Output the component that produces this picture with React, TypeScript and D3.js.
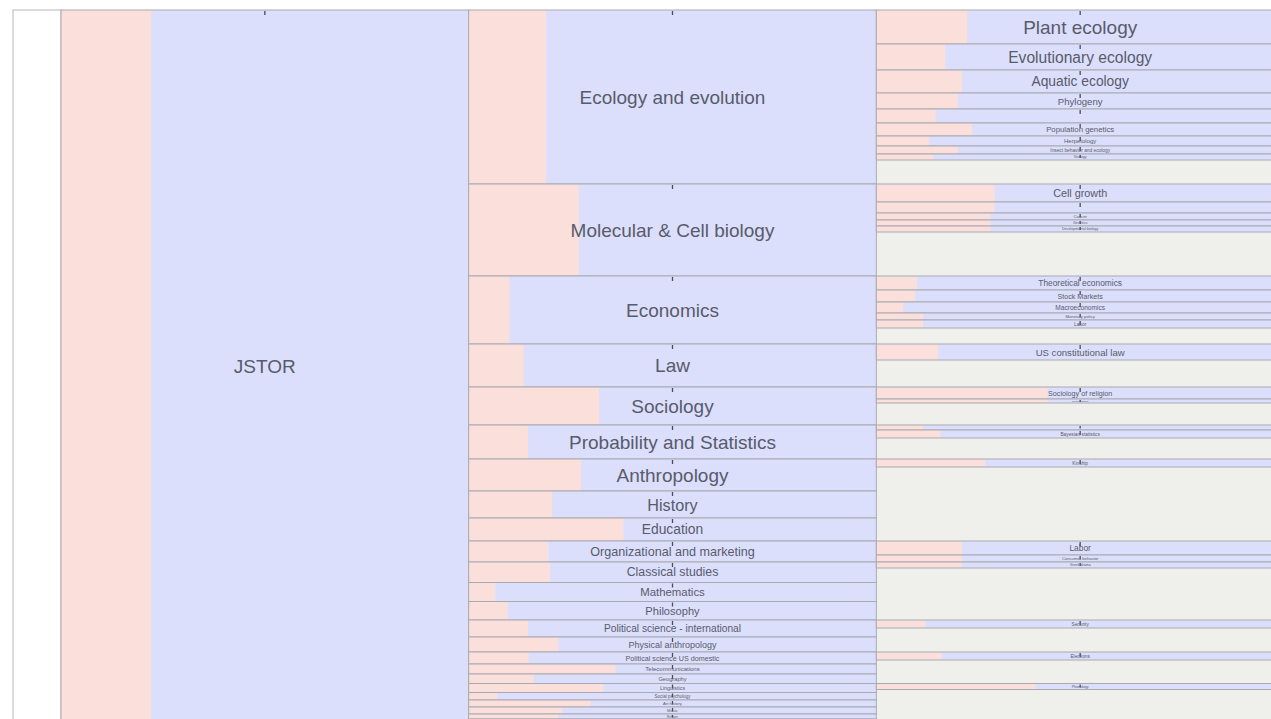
import React from 'react';
import * as d3 from 'd3';

const WIDTH = 1271;
const HEIGHT = 719;

// root share of the whole collection
const rootName = 'JSTOR';
const rootShare = 0.221;

// second level: disciplines
const fieldNames = [
  'Ecology and evolution', 'Molecular & Cell biology', 'Economics', 'Law', 'Sociology',
  'Probability and Statistics', 'Anthropology', 'History', 'Education',
  'Organizational and marketing', 'Classical studies', 'Mathematics', 'Philosophy',
  'Political science - international', 'Physical anthropology', 'Political science US domestic',
  'Telecommunications', 'Geography', 'Linguistics', 'Social psychology', 'Art history',
  'Music', 'Religion', 'Finance',
];
const fieldSizes = [174, 92, 68, 43, 38, 34, 32, 27, 23, 21, 20.5, 19, 18.5, 17, 15, 12, 10, 9.5, 9, 7.5, 7, 7, 5, 3];
const fieldShares = [0.19, 0.27, 0.1, 0.135, 0.32, 0.145, 0.275, 0.205, 0.38, 0.196, 0.2, 0.066, 0.096, 0.145, 0.22, 0.147, 0.36, 0.16, 0.33, 0.07, 0.3, 0.23, 0.22, 0.15];

// third level: topics inside each discipline
const topicFields = [
  'Ecology and evolution', 'Ecology and evolution', 'Ecology and evolution', 'Ecology and evolution',
  'Ecology and evolution', 'Ecology and evolution', 'Ecology and evolution', 'Ecology and evolution',
  'Ecology and evolution',
  'Molecular & Cell biology', 'Molecular & Cell biology', 'Molecular & Cell biology',
  'Molecular & Cell biology', 'Molecular & Cell biology',
  'Economics', 'Economics', 'Economics', 'Economics', 'Economics',
  'Law',
  'Sociology', 'Sociology',
  'Probability and Statistics', 'Probability and Statistics',
  'Anthropology',
  'Organizational and marketing', 'Organizational and marketing',
  'Classical studies',
  'Political science - international',
  'Political science US domestic',
  'Linguistics',
];
const topicNames = [
  'Plant ecology', 'Evolutionary ecology', 'Aquatic ecology', 'Phylogeny', '',
  'Population genetics', 'Herpetology', 'Insect behavior and ecology', 'Virology',
  'Cell growth', '', 'Cancer', 'Genetics', 'Developmental biology',
  'Theoretical economics', 'Stock Markets', 'Macroeconomics', 'Monetary policy', 'Labor',
  'US constitutional law',
  'Sociology of religion', 'Gender studies',
  '', 'Bayesian statistics',
  'Kinship',
  'Labor', 'Consumer behavior',
  'Greek drama',
  'Security',
  'Elections',
  'Phonology',
];
const topicSizes = [34, 26, 23, 16, 14, 13, 10, 8, 6, 18, 11, 7, 6, 6, 14, 12, 11, 7, 8, 16, 12, 4, 5, 8, 8, 14, 7, 6, 8, 8, 6];
const topicShares = [0.223, 0.169, 0.21, 0.2, 0.145, 0.235, 0.13, 0.2, 0.14, 0.29, 0.29, 0.28, 0.28, 0.28, 0.1, 0.095, 0.066, 0.115, 0.115, 0.152, 0.42, 0.42, 0.115, 0.157, 0.267, 0.21, 0.21, 0.21, 0.12, 0.16, 0.39];

interface Node {
  name: string;
  share: number;
  value?: number;
  children?: Node[];
}

const data: Node = {
  name: '',
  share: 0,
  children: [{
    name: rootName,
    share: rootShare,
    children: fieldNames.map((f, i) => {
      const kids: Node[] = topicNames
        .map((t, j) => ({ name: t, share: topicShares[j], value: topicSizes[j], field: topicFields[j] }))
        .filter(t => t.field === f)
        .map(({ name, share, value }) => ({ name, share, value }));
      const used = d3.sum(kids, k => k.value || 0);
      // the part of a discipline with no topic stays as its own value (grey space)
      return { name: f, share: fieldShares[i], value: fieldSizes[i] - used, children: kids };
    }),
  }],
};

const frameLeft = 13;
const top = 10;
const bottom = 722;

export default function App() {
  const root = d3.hierarchy<Node>(data).sum(d => d.value || 0);
  d3.partition<Node>().size([1, 4])(root);

  const y = d3.scaleLinear().domain([0, 1]).range([top, bottom]);
  const col = d3.scaleLinear().domain([1, 4]).range([61, 1284]);

  const nodes = root.descendants() as d3.HierarchyRectangularNode<Node>[];

  return (
    <div style={{ position: 'fixed', left: 0, top: 0, width: WIDTH, height: HEIGHT, overflow: 'hidden', background: '#fff' }}>
      <svg width={WIDTH} height={HEIGHT} style={{ display: 'block' }} fontFamily="'Liberation Sans', Arial, Helvetica, sans-serif">
        <rect x={col(1)} y={top} width={col(4) - col(1)} height={bottom - top} fill="#efefec" />
        {nodes.map((n, i) => {
          const x0 = Math.max(frameLeft, col(n.y0));
          const x1 = col(n.y1);
          const y0 = y(n.x0);
          const y1 = y(n.x1);
          const h = y1 - y0;
          const w = x1 - x0;
          if (n.depth === 0) {
            return <rect key={i} x={x0} y={y0} width={w} height={h} fill="#fff" stroke="#b8b8b8" strokeWidth={1} />;
          }
          const fs = Math.min(19, h * 0.6);
          const cx = (x0 + x1) / 2;
          const cy = (y0 + y1) / 2;
          // labels whose cell runs past the bottom of the window are left out
          const showLabel = n.data.name && cy + fs / 2 <= HEIGHT;
          return (
            <g key={i}>
              <rect x={x0} y={y0} width={w} height={h} fill="#dcdffb" />
              <rect x={x0} y={y0} width={w * n.data.share} height={h} fill="#fbdfda" />
              <rect x={x0} y={y0} width={w} height={h} fill="none" stroke="#a9a9b2" strokeWidth={1} />
              <line x1={cx} x2={cx} y1={y0 + 1} y2={y0 + 1 + Math.min(4, h * 0.5)} stroke="#4a4c58" strokeWidth={1.3} />
              {showLabel && (
                <text x={cx} y={cy} textAnchor="middle" dominantBaseline="central"
                  fontSize={fs} fill="#585b6b">
                  {n.data.name}
                </text>
              )}
            </g>
          );
        })}
      </svg>
    </div>
  );
}
